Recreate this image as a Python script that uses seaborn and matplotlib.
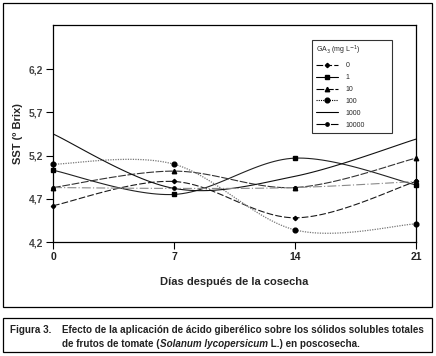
import numpy as np
import pandas as pd
import seaborn as sns
import matplotlib.pyplot as plt
from matplotlib.lines import Line2D
from matplotlib.patches import Rectangle

# days after harvest and soluble solids (ºBrix) for each GA3 dose
dias = [0, 7, 14, 21]
ga_0 = [4.62, 4.90, 4.48, 4.90]
ga_1 = [5.03, 4.75, 5.17, 4.86]
ga_10 = [4.83, 5.02, 4.83, 5.17]
ga_100 = [5.10, 5.10, 4.34, 4.41]
ga_1000 = [5.45, 4.82, 4.96, 5.39]
ga_10000 = [4.83, 4.82, 4.83, 4.90]

dosis = ['0', '1', '10', '100', '1000', '10000']
y_ticks = [4.2, 4.7, 5.2, 5.7, 6.2]
y_tick_labels = ['4,2', '4,7', '5,2', '5,7', '6,2']

FONT = ['Liberation Sans Narrow', 'Liberation Sans', 'DejaVu Sans']


def smooth(xs, ys, n=30):
    # excel-like smoothed line (catmull-rom bezier through the points)
    p = np.column_stack([xs, ys]).astype(float)
    p = np.vstack([p[0], p, p[-1]])
    out = []
    t = np.linspace(0, 1, n)[:, None]
    for i in range(1, len(p) - 2):
        p0, p1, p2, p3 = p[i - 1], p[i], p[i + 1], p[i + 2]
        b1 = p1 + (p2 - p0) / 6
        b2 = p2 - (p3 - p1) / 6
        seg = (1 - t) ** 3 * p1 + 3 * (1 - t) ** 2 * t * b1 + 3 * (1 - t) * t ** 2 * b2 + t ** 3 * p2
        out.append(seg if i == 1 else seg[1:])
    out = np.vstack(out)
    return out[:, 0], out[:, 1]


sns.set_style('white')
plt.rcParams['font.family'] = FONT

fig = plt.figure(figsize=(4.36, 3.56), dpi=100)
ax = fig.add_axes([53 / 436, 1 - 242 / 356, 363 / 436, 217 / 356])

series = [
    (ga_0, dict(color='#1a1a1a', ls=(0, (6, 2)), lw=0.8), dict(marker='D', ms=2.2)),
    (ga_1, dict(color='#222222', ls='-', lw=0.8), dict(marker='s', ms=3.2)),
    (ga_10, dict(color='#333333', ls=(0, (7, 1.5)), lw=0.8), dict(marker='^', ms=3.2)),
    (ga_100, dict(color='#777777', ls=(0, (1, 1)), lw=0.9), dict(marker='o', ms=3.4)),
    (ga_1000, dict(color='#111111', ls='-', lw=0.8), dict(marker='None', ms=0)),
    (ga_10000, dict(color='#8a8a8a', ls=(0, (8, 2, 1, 2)), lw=0.8), dict(marker='o', ms=2.4)),
]

handles = []
for vals, lstyle, mstyle in series:
    sx, sy = smooth(dias, vals)
    df = pd.DataFrame({'dia': sx, 'sst': sy})
    sns.lineplot(data=df, x='dia', y='sst', ax=ax, sort=False, estimator=None,
                 color=lstyle['color'], linestyle=lstyle['ls'], linewidth=lstyle['lw'])
    ax.plot(dias, vals, linestyle='none', color='black', clip_on=False, **mstyle)
    handles.append(Line2D([], [], color='black', linestyle=lstyle['ls'], linewidth=0.8, **mstyle))

ax.set_xlim(0, 21)
ax.set_ylim(4.2, 6.71)
ax.set_xticks(dias)
ax.set_xticklabels([str(d) for d in dias], fontsize=7.5, fontweight='bold', color='#222222')
ax.set_yticks(y_ticks)
ax.set_yticklabels(y_tick_labels, fontsize=7.5, fontweight='bold', color='#444444')
ax.tick_params(axis='both', direction='out', length=5, width=0.8, color='black', pad=2,
               bottom=True, left=True)
for s in ax.spines.values():
    s.set_color('black')
    s.set_linewidth(0.9)

ax.set_xlabel('Días después de la cosecha', fontsize=8, fontweight='bold', labelpad=11)
ax.set_ylabel('SST (º Brix)', fontsize=8, fontweight='bold', labelpad=4)

leg = ax.legend(handles, dosis, title='GA$_3$ (mg L$^{-1}$)', loc='upper left',
                bbox_to_anchor=(0.713, 0.931, 0.221, 0), mode='expand',
                fontsize=5, title_fontsize=5,
                frameon=True, fancybox=False, edgecolor='black', handlelength=3.2,
                labelspacing=0.7, borderpad=0.6, handletextpad=1.1, borderaxespad=0)
leg._legend_box.align = 'left'
leg.get_frame().set_linewidth(0.8)

# outer frame of the chart and of the caption
fig.patches.append(Rectangle((3 / 436, 1 - 307 / 356), 429 / 436, 304 / 356,
                             transform=fig.transFigure, fill=False, ec='black', lw=0.9))
fig.patches.append(Rectangle((3 / 436, 1 - 352 / 356), 429 / 436, 34 / 356,
                             transform=fig.transFigure, fill=False, ec='black', lw=0.9))

# caption with italic species name
renderer = fig.canvas.get_renderer()
cap_kw = dict(fontsize=7.1, fontweight='bold', color='#222222', va='center', ha='left')
fig.text(10 / 436, 1 - 330 / 356, 'Figura 3.', **cap_kw)
fig.text(62 / 436, 1 - 330 / 356,
         'Efecto de la aplicación de ácido giberélico sobre los sólidos solubles totales', **cap_kw)
x = 62 / 436
for txt, style in [('de frutos de tomate (', 'normal'), ('Solanum lycopersicum', 'italic'),
                   (' L.) en poscosecha.', 'normal')]:
    t = fig.text(x, 1 - 344 / 356, txt, style=style, **cap_kw)
    bb = t.get_window_extent(renderer=renderer)
    x += bb.width / fig.bbox.width

fig.savefig('out.png', dpi=100)
